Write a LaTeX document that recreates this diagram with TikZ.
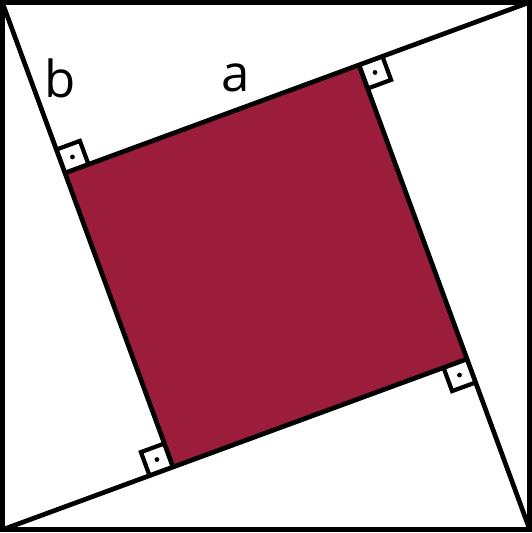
\documentclass[tikz,border=0pt]{standalone}
\usepackage{fontspec}
\setmainfont{Open Sans}
\usetikzlibrary{calc}
\definecolor{wine}{RGB}{156,29,59}
% right angle box at #1, sides towards #2 and #3
\newcommand{\rtmark}[3]{
	\coordinate (u) at ($(#1)!0.25cm!(#2)$);
	\coordinate (v) at ($(#1)!0.25cm!(#3)$);
	\draw[anglebox] (u) -- ($(u)+(v)-(#1)$) -- (v);
	\fill ($(u)!0.5!(v)$) circle (0.024);
}
\begin{document}
\begin{tikzpicture}[line width=0.047cm]
			\tikzstyle{anglebox}=[line width=0.042cm]
			\tikzstyle{letter}=[font=\fontsize{14.5pt}{16pt}\selectfont]
			\useasboundingbox (0,0) rectangle (5.32,5.33);
			\coordinate (TL) at (0.022,5.308);
			\coordinate (TR) at (5.298,5.308);
			\coordinate (BR) at (5.298,0.032);
			\coordinate (BL) at (0.022,0.032);
			\coordinate (A) at ($(TL)+(-69.8:1.82)$);
			\coordinate (B) at ($(TR)+(-159.8:1.82)$);
			\coordinate (C) at ($(BR)+(110.2:1.82)$);
			\coordinate (D) at ($(BL)+(20.2:1.82)$);
			\fill[wine] (A) -- (B) -- (C) -- (D) -- cycle;
			\draw (TL) -- (D);
			\draw (TR) -- (A);
			\draw (BR) -- (B);
			\draw (BL) -- (C);
			\draw (TL) rectangle (BR);
			\rtmark{A}{TL}{B}
			\rtmark{B}{TR}{C}
			\rtmark{C}{BR}{D}
			\rtmark{D}{BL}{A}
			\node[letter] (lb) at (0.60,4.55) {b};
			\node[letter] (la) at (2.36,4.55) {a};
\end{tikzpicture}
\end{document}
